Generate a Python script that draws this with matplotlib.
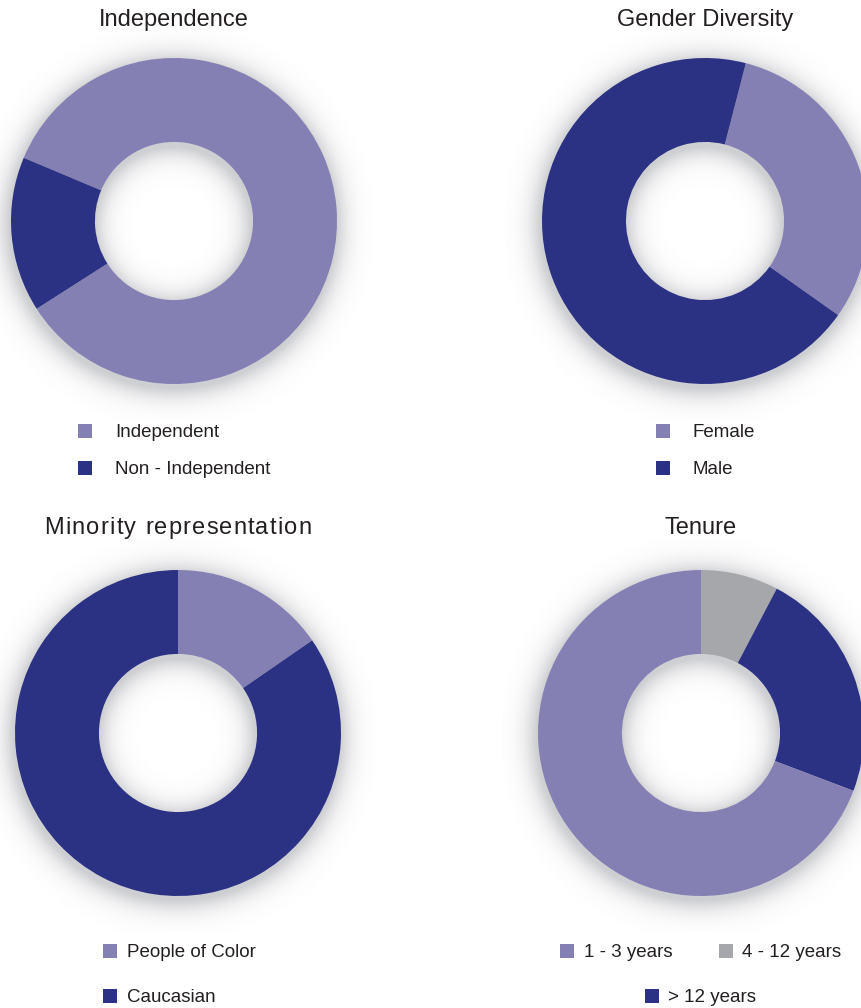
import numpy as np
import matplotlib
matplotlib.use('Agg')
import matplotlib.pyplot as plt
from matplotlib.patches import Rectangle

plt.rcParams['font.family'] = ['Liberation Sans', 'DejaVu Sans']

LIGHT = '#8580b4'
DARK = '#2b3183'
GRAY = '#a6a7ab'
TXT = '#231f20'

# ===== DATA =====
indep_labels = ['Independent', 'Non - Independent']
indep_values = [11, 2]

gender_labels = ['Female', 'Male']
gender_values = [4, 9]

minority_labels = ['People of Color', 'Caucasian']
minority_values = [2, 11]

tenure_labels = ['1 - 3 years', '4 - 12 years', '> 12 years']
tenure_values = [9, 1, 3]

# ===== LAYOUT =====
W, H = 862, 1008
R_PX = 163      # outer radius in px
HOLE = 0.485    # inner radius / outer radius
HALF = 200      # half size of each donut axes in px

fig = plt.figure(figsize=(W / 100, H / 100), dpi=100)


def donut(cx, cy, values, colors, start):
    lim = HALF / R_PX
    ax = fig.add_axes([(cx - HALF) / W, 1 - (cy + HALF) / H, 2 * HALF / W, 2 * HALF / H])

    # soft shadow under the ring
    n = 500
    g = np.linspace(-lim, lim, n)
    X, Y = np.meshgrid(g, g)
    r = np.hypot(X + 1 / R_PX, Y + 4 / R_PX)
    d = np.clip(np.maximum(r - 1, HOLE - r), 0, None) * R_PX
    img = np.zeros((n, n, 4))
    img[..., :3] = (0.40, 0.41, 0.45)
    img[..., 3] = 0.32 * np.exp(-(d / 13.0) ** 1.3)
    ax.imshow(img, extent=(-lim, lim, -lim, lim), origin='lower', zorder=0,
              interpolation='bilinear')

    ax.pie(values, colors=colors, startangle=start, counterclock=False, radius=1,
           wedgeprops=dict(width=1 - HOLE, linewidth=0, zorder=2))
    ax.set_xlim(-lim, lim)
    ax.set_ylim(-lim, lim)
    ax.set_aspect('equal')
    ax.axis('off')
    return ax


def title(cx, baseline, s, spacing=0.0):
    if spacing == 0:
        fig.text(cx / W, 1 - baseline / H, s, ha='center', va='baseline',
                 fontsize=17, color=TXT)
        return
    # letter spaced title, placed char by char
    rend = fig.canvas.get_renderer()

    def width(t):
        tt = fig.text(0, 0, t, fontsize=17)
        w = tt.get_window_extent(rend).width
        tt.remove()
        return w

    base = width('||')
    pos = [width('|' + s[:i] + '|') - base + i * spacing for i in range(len(s))]
    total = width('|' + s + '|') - base + (len(s) - 1) * spacing
    x0 = cx - total / 2
    for c, p in zip(s, pos):
        if c != ' ':
            fig.text((x0 + p) / W, 1 - baseline / H, c, ha='left', va='baseline',
                     fontsize=17, color=TXT)


def legend_item(x, baseline, color, label, text_x):
    fig.patches.append(Rectangle((x / W, 1 - (baseline + 1) / H), 14 / W, 14 / H,
                                 transform=fig.transFigure, facecolor=color,
                                 edgecolor='none'))
    fig.text(text_x / W, 1 - baseline / H, label, ha='left', va='baseline',
             fontsize=13.5, color=TXT)


# ===== Independence =====
donut(174, 221, indep_values, [LIGHT, DARK], 157.2)
title(174, 26, 'Independence')
legend_item(78, 437, LIGHT, indep_labels[0], 115)
legend_item(78, 474, DARK, indep_labels[1], 115)

# ===== Gender Diversity =====
donut(705, 221, gender_values, [LIGHT, DARK], 75.5)
title(705, 26, 'Gender Diversity')
legend_item(656, 437, LIGHT, gender_labels[0], 693)
legend_item(656, 474, DARK, gender_labels[1], 693)

# ===== Minority representation =====
donut(178, 733, minority_values, [LIGHT, DARK], 90)
title(178, 534, 'Minority representation', spacing=1.2)
legend_item(103, 957, LIGHT, minority_labels[0], 127)
legend_item(103, 1002, DARK, minority_labels[1], 127)

# ===== Tenure =====
tenure_colors = [LIGHT, GRAY, DARK]
order = [1, 2, 0]   # clockwise from the top: 4-12, >12, 1-3
donut(701, 733, [tenure_values[i] for i in order], [tenure_colors[i] for i in order], 90)
title(701, 534, 'Tenure')
legend_item(560, 957, LIGHT, tenure_labels[0], 584)
legend_item(719, 957, GRAY, tenure_labels[1], 742)
legend_item(645, 1002, DARK, tenure_labels[2], 668)

fig.savefig('out.png', dpi=100)
